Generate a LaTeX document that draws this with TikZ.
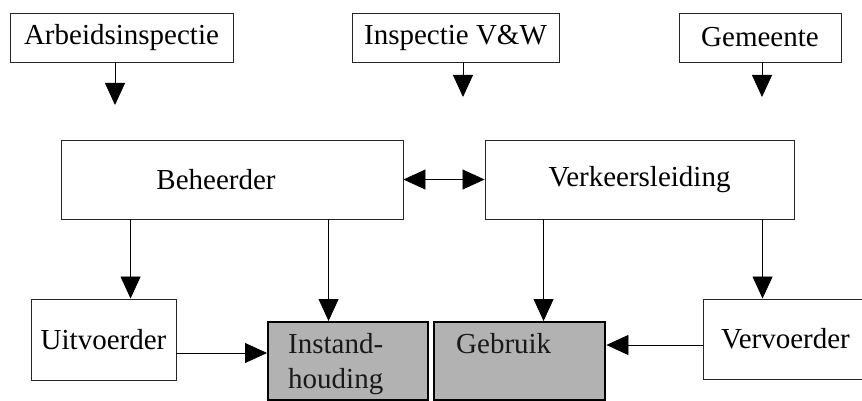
\documentclass[tikz,border=0pt]{standalone}
\usepackage{fontspec}
\setmainfont{Liberation Serif}
\usetikzlibrary{arrows.meta,calc}
\begin{document}
\begin{tikzpicture}[x=1pt,y=-1pt,
  box/.style={draw=black!85,line width=0.9pt,fill=white,inner sep=0pt,font=\fontsize{29}{32}\selectfont},
  graybox/.style={draw=black,line width=2.4pt,fill=black!30,inner sep=0pt},
  grtext/.style={inner sep=0pt,anchor=north west,align=left,text=black!90,font=\fontsize{29}{35}\selectfont},
  arr/.style={line width=0.8pt,-{Triangle[width=20pt,length=22pt]}},
  darr/.style={line width=0.8pt,{Triangle[width=20pt,length=22pt]}-{Triangle[width=20pt,length=22pt]}}]
\useasboundingbox (0,0) rectangle (862,401);
\clip (0,0) rectangle (862,401);
% top boxes
\node[box,minimum width=223pt,minimum height=49pt] (arb) at (121.5,37.5) {Arbeidsinspectie};
\node[box,minimum width=207pt,minimum height=49pt] (insp) at (455.5,37.5) {Inspectie V\&W};
\node[box,minimum width=162pt,minimum height=49pt] (gem) at (760,37.5) {Gemeente};
\coordinate (arbend) at (115,105);
\coordinate (inspend) at (463,97);
\coordinate (gemend) at (762,97);
\draw[arr] (arb.south -| arbend) -- (arbend);
\draw[arr] (insp.south -| inspend) -- (inspend);
\draw[arr] (gem.south -| gemend) -- (gemend);
% middle boxes
\node[box,minimum width=342pt,minimum height=79pt] (beh) at (232,179.5) {\hspace*{-32pt}Beheerder};
\node[box,minimum width=309pt,minimum height=79pt] (ver) at (639.5,179.5) {Verkeersleiding};
\draw[darr] (beh.east) -- (ver.west);
% bottom boxes
\node[box,minimum width=145pt,minimum height=81pt] (uit) at (103.5,339.5) {Uitvoerder};
\node[box,minimum width=180pt,minimum height=80pt,anchor=west] (vvd) at (703,339) {\hspace*{-2pt}Vervoerder\hspace*{14pt}};
\node[graybox,minimum width=160pt,minimum height=78pt,anchor=north west] (ins) at (267,321) {};
\node[graybox,minimum width=171pt,minimum height=78pt,anchor=north west] (geb) at (433,321) {};
\node[grtext] at ([xshift=21pt,yshift=-12pt]ins.north west) {Instand-\\houding};
\node[grtext] at ([xshift=23pt,yshift=-12pt]geb.north west) {Gebruik};
% vertical connectors
\draw[arr] ([xshift=70pt]beh.south west) -- ([xshift=70pt]beh.south west |- uit.north);
\draw[arr] ([xshift=268pt]beh.south west) -- ([xshift=268pt]beh.south west |- ins.north);
\draw[arr] ([xshift=59pt]ver.south west) -- ([xshift=59pt]ver.south west |- geb.north);
\draw[arr] ([xshift=278pt]ver.south west) -- ([xshift=278pt]ver.south west |- vvd.north);
% horizontal connectors
\draw[arr] ([yshift=-13.5pt]uit.east) -- ([yshift=-13.5pt]uit.east -| ins.west);
\draw[arr] ([yshift=-6pt]vvd.west) -- ([yshift=-6pt]vvd.west -| geb.east);
\end{tikzpicture}
\end{document}
